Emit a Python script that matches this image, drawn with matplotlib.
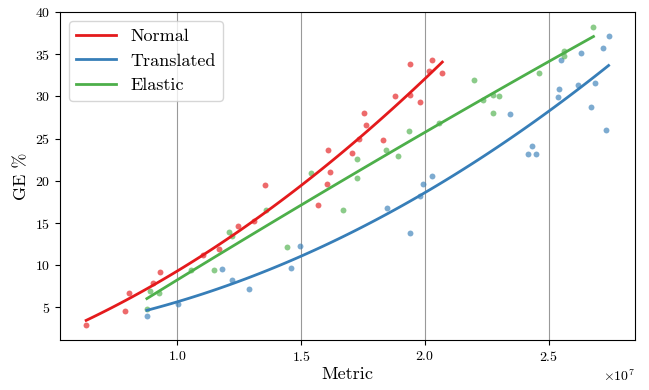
import numpy as np
import matplotlib
matplotlib.use("Agg")
import matplotlib.pyplot as plt

plt.rcParams['font.family'] = 'serif'
plt.rcParams['font.serif'] = ['cmr10', 'DejaVu Serif']
plt.rcParams['mathtext.fontset'] = 'cm'
plt.rcParams['axes.unicode_minus'] = False
plt.rcParams['axes.formatter.use_mathtext'] = True

# Metric values in units of 1e7
normal_x = [0.633, 0.79, 0.804, 0.902, 0.929, 1.104, 1.17, 1.245, 1.31, 1.355,
            1.57, 1.604, 1.608, 1.617, 1.707, 1.733, 1.753, 1.762, 1.83, 1.878,
            1.94, 1.94, 1.98, 2.017, 2.027, 2.07]
normal_y = [2.9, 4.55, 6.7, 7.9, 9.17, 11.2, 11.9, 14.6, 15.2, 19.5,
            17.1, 19.6, 23.6, 21.0, 23.3, 25.0, 28.0, 26.6, 24.8, 30.0,
            33.9, 30.2, 29.4, 33.0, 34.3, 32.8]

translated_x = [0.878, 1.005, 1.18, 1.223, 1.29, 1.458, 1.496, 1.848, 1.941, 1.98,
                1.992, 2.027, 2.343, 2.415, 2.433, 2.45, 2.535, 2.54, 2.548, 2.617,
                2.629, 2.668, 2.685, 2.719, 2.729, 2.741]
translated_y = [4.0, 5.4, 9.5, 8.2, 7.2, 9.7, 12.3, 16.75, 13.85, 18.25,
                19.6, 20.6, 27.9, 23.2, 24.1, 23.2, 29.9, 30.9, 34.3, 31.4,
                35.1, 28.8, 31.6, 35.7, 26.0, 37.2]

elastic_x = [0.878, 0.892, 0.927, 1.056, 1.15, 1.21, 1.222, 1.359, 1.442, 1.54,
             1.668, 1.725, 1.727, 1.844, 1.89, 1.937, 2.056, 2.198, 2.235, 2.274,
             2.275, 2.297, 2.462, 2.56, 2.56, 2.68]
elastic_y = [4.8, 6.9, 6.7, 9.4, 9.4, 14.0, 13.5, 16.6, 12.2, 20.9,
             16.5, 20.3, 22.6, 23.7, 22.9, 25.9, 26.8, 32.0, 29.6, 28.0,
             30.2, 30.0, 32.8, 35.4, 34.8, 38.2]

series = [("Normal", normal_x, normal_y, "#e41a1c"),
          ("Translated", translated_x, translated_y, "#377eb8"),
          ("Elastic", elastic_x, elastic_y, "#4daf4a")]

fig = plt.figure(figsize=(6.49, 3.90), dpi=100)
ax = fig.add_axes([0.0925, 0.128, 0.8855, 0.841])

for name, xs, ys, c in series:
    xs = np.array(xs) * 1e7
    ys = np.array(ys)
    ax.scatter(xs, ys, s=18, color=c, alpha=0.65, linewidths=0, zorder=2)
    coef = np.polyfit(xs / 1e7, ys, 2)
    xf = np.linspace(xs.min(), xs.max(), 100)
    ax.plot(xf, np.polyval(coef, xf / 1e7), color=c, lw=2, label=name, zorder=3)

ax.set_xticks([1.0e7, 1.5e7, 2.0e7, 2.5e7])
ax.set_yticks([5, 10, 15, 20, 25, 30, 35, 40])
ax.grid(axis='x', color='#999999', lw=0.8)
ax.set_axisbelow(True)
ax.tick_params(labelsize=10)
ax.set_xlabel("Metric", fontsize=13, labelpad=2)
ax.set_ylabel("GE %", fontsize=13)
ax.legend(loc='upper left', fontsize=13, handlelength=2.2)

fig.savefig("out.png", dpi=100)
